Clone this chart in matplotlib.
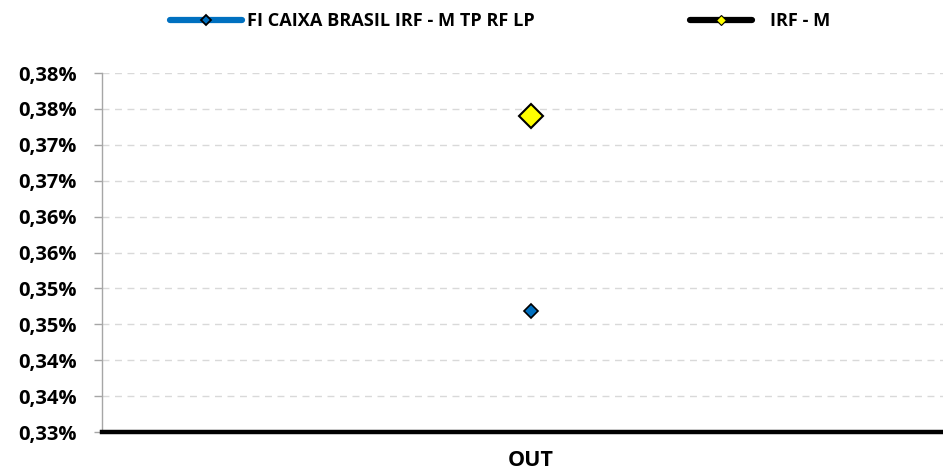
import matplotlib
matplotlib.use("Agg")
import matplotlib.pyplot as plt
from matplotlib.lines import Line2D
from matplotlib.ticker import FuncFormatter, MultipleLocator

# Data (values in %)
categories = ["OUT"]
fundo_name = "FI CAIXA BRASIL IRF - M TP RF LP"
bench_name = "IRF - M"
fundo_vals = [0.3469]
bench_vals = [0.3740]

BLUE = "#0070C0"
YELLOW = "#FFFF00"
FONT = "Open Sans"

fig = plt.figure(figsize=(9.43, 4.75), dpi=100)
ax = fig.add_axes([0.1082, 0.0905, 0.8918, 0.7558])

x = list(range(len(categories)))
ax.plot(x, fundo_vals, color=BLUE, lw=3.5, marker="D", ms=7,
        mfc=BLUE, mec="black", mew=1.2, zorder=4)
ax.plot(x, bench_vals, color="black", lw=3.5, marker="D", ms=12.5,
        mfc=YELLOW, mec="black", mew=1.5, zorder=4)

ax.set_xlim(-0.51, 0.49)
ax.set_ylim(0.33, 0.38)
ax.yaxis.set_major_locator(MultipleLocator(0.005))
ax.yaxis.set_major_formatter(
    FuncFormatter(lambda v, p: f"{v + 1e-9:.2f}".replace(".", ",") + "%"))

ax.set_xticks(x)
ax.set_xticklabels(categories)
ax.tick_params(axis="x", length=0, pad=13)
ax.tick_params(axis="y", length=6, width=1, color="#a6a6a6", pad=12)
for lab in ax.get_xticklabels():
    lab.set_fontfamily(FONT)
    lab.set_fontweight("bold")
    lab.set_fontsize(15.5)
for lab in ax.get_yticklabels():
    lab.set_fontfamily(FONT)
    lab.set_fontweight("bold")
    lab.set_fontsize(14.5)

ax.grid(axis="y", color="#d9d9d9", linestyle=(0, (5, 4)), lw=1)
ax.set_axisbelow(True)
for s in ["top", "right"]:
    ax.spines[s].set_visible(False)
ax.spines["left"].set_color("#a6a6a6")
ax.spines["left"].set_linewidth(1)
ax.spines["bottom"].set_color("black")
ax.spines["bottom"].set_linewidth(3.2)
ax.spines["bottom"].set_zorder(5)

# legend (proxy handles with small markers, as in the original)
h1 = Line2D([], [], color=BLUE, lw=4.5, solid_capstyle="round", marker="D",
            ms=5, mfc=BLUE, mec="black", mew=1.3)
h2 = Line2D([], [], color="black", lw=4.5, solid_capstyle="round", marker="D",
            ms=5, mfc=YELLOW, mec="black", mew=0.8)
legend_font = {"family": FONT, "weight": "bold", "size": 13.1}
leg1 = fig.legend([h1], [fundo_name], loc="center left",
                  bbox_to_anchor=(0.180, 0.956), frameon=False,
                  handlelength=3.96, handletextpad=0.27, prop=legend_font,
                  borderaxespad=0, borderpad=0)
leg2 = fig.legend([h2], [bench_name], loc="center left",
                  bbox_to_anchor=(0.7317, 0.956), frameon=False,
                  handlelength=3.4, handletextpad=1.0, prop=legend_font,
                  borderaxespad=0, borderpad=0)

fig.savefig("out.png", dpi=100)
